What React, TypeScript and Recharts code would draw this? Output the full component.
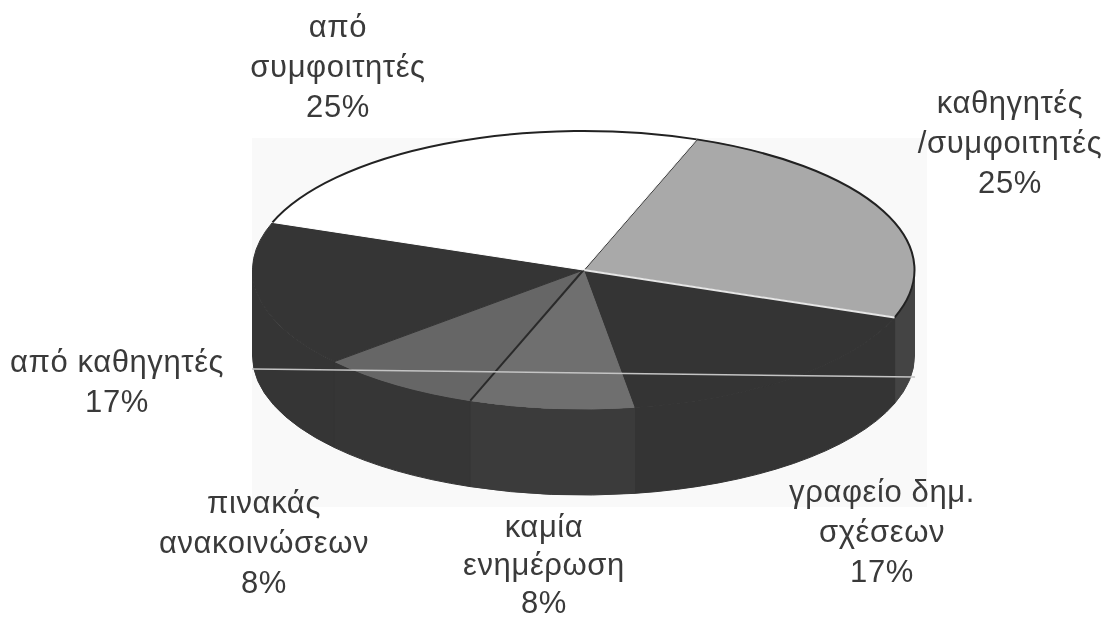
import React from 'react';
import { PieChart, Pie, Cell } from 'recharts';

const categories = [
  ['καθηγητές', '/συμφοιτητές'],
  ['γραφείο δημ.', 'σχέσεων'],
  ['καμία', 'ενημέρωση'],
  ['πινακάς', 'ανακοινώσεων'],
  ['από καθηγητές'],
  ['από', 'συμφοιτητές'],
];
const shares = [25, 17, 8, 8, 17, 25];
const topColors = ['#a9a9a9', '#343434', '#6f6f6f', '#666666', '#353535', '#ffffff'];
const wallColors = ['#444444', '#343434', '#3b3b3b', '#363636', '#353535', '#ffffff'];
const edgeColors = ['#222222', '#e6e6e6', null, '#2a2a2a', null, null];
const rimColors = ['#222222', null, null, null, null, '#222222'];

const data = categories.map((lines, i) => ({ lines, value: shares[i] }));

// baseline of each label's first line, and the distance between its lines
const labelPos = [
  { x: 1010, y: 113, gap: 40 },
  { x: 882, y: 502, gap: 40 },
  { x: 544, y: 537, gap: 38 },
  { x: 264, y: 513, gap: 40 },
  { x: 117, y: 372, gap: 40 },
  { x: 338, y: 37, gap: 40 },
];

const W = 1107;
const H = 620;
const SQUASH = 0.42;
const DEPTH = 86;
const RAD = Math.PI / 180;

const rimPoint = (cx: number, cy: number, r: number, deg: number) => [
  cx + r * Math.cos(deg * RAD),
  cy - r * SQUASH * Math.sin(deg * RAD),
];

// pie slice flattened into an ellipse, with the visible part of the side wall
const Slice3D = (props: any) => {
  const { cx, cy, outerRadius: r, startAngle, endAngle, index } = props;
  const [x0, y0] = rimPoint(cx, cy, r, startAngle);
  const [x1, y1] = rimPoint(cx, cy, r, endAngle);
  const ry = r * SQUASH;
  const sweep = Math.abs(startAngle - endAngle);
  const large = sweep > 180 ? 1 : 0;
  const arc = `M${x0},${y0} A${r},${ry} 0 ${large} 1 ${x1},${y1}`;

  // the wall only shows where the rim faces the viewer (180..360 degrees)
  const s = ((startAngle % 360) + 360) % 360 || 360;
  const e = s - sweep;
  const ranges: [number, number][] = [];
  if (s > 180 && e < 360) ranges.push([s, Math.max(e, 180)]);
  if (e < 0) ranges.push([360, Math.max(e + 360, 180)]);

  return (
    <g>
      {ranges.map(([a, b], k) => {
        const [ax, ay] = rimPoint(cx, cy, r, a);
        const [bx, by] = rimPoint(cx, cy, r, b);
        return (
          <path
            key={k}
            d={`M${ax},${ay} A${r},${ry} 0 0 1 ${bx},${by} L${bx},${by + DEPTH} A${r},${ry} 0 0 0 ${ax},${ay + DEPTH} Z`}
            fill={wallColors[index]}
            stroke={wallColors[index]}
          />
        );
      })}
      <path d={`${arc} L${cx},${cy} Z`} fill={topColors[index]} stroke={topColors[index]} />
      {rimColors[index] && <path d={arc} fill="none" stroke={rimColors[index]} strokeWidth={2} />}
      {edgeColors[index] && <line x1={cx} y1={cy} x2={x0} y2={y0} stroke={edgeColors[index]} strokeWidth={2} />}
    </g>
  );
};

const renderLabel = (props: any) => {
  const { index } = props;
  const item = data[index];
  const pos = labelPos[index];
  return (
    <text key={index} x={pos.x} y={pos.y} textAnchor="middle" fill="#3a3a3a" fontSize={31} letterSpacing={0.6} fontFamily="Liberation Sans, Arial, sans-serif">
      {item.lines.map((line, i) => (
        <tspan key={i} x={pos.x} dy={i === 0 ? 0 : pos.gap}>{line}</tspan>
      ))}
      <tspan x={pos.x} dy={pos.gap}>{item.value}%</tspan>
    </text>
  );
};

const App = () => (
  <div style={{ position: 'absolute', left: 0, top: 0, width: W, height: H, background: '#ffffff', overflow: 'hidden' }}>
    <div style={{ position: 'absolute', left: 252, top: 138, width: 675, height: 369, background: '#f9f9f9' }} />
    <div style={{ position: 'absolute', left: 0, top: 0, filter: 'blur(0.5px)' }}>
      <PieChart width={W} height={H} margin={{ top: 0, right: 0, bottom: 0, left: 0 }}>
        <Pie
          data={data}
          dataKey="value"
          cx={583.5}
          cy={270}
          outerRadius={331}
          startAngle={70}
          endAngle={-290}
          paddingAngle={0}
          stroke="none"
          isAnimationActive={false}
          shape={Slice3D}
          label={renderLabel}
          labelLine={false}
        >
          {data.map((_, i) => (
            <Cell key={i} fill={topColors[i]} />
          ))}
        </Pie>
      </PieChart>
    </div>
    <svg width={W} height={H} style={{ position: 'absolute', left: 0, top: 0, pointerEvents: 'none' }}>
      <line x1={252} y1={369} x2={915} y2={377} stroke="#c4c4c4" strokeWidth={1.5} />
    </svg>
  </div>
);

export default App;
